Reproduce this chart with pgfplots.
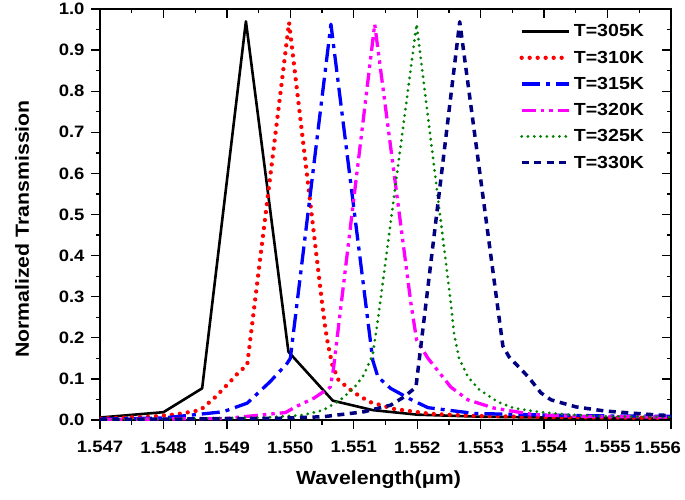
\documentclass[border=0pt]{standalone}
\usepackage{fontspec}
\setmainfont{Liberation Sans}[FakeStretch=1.12]
\usepackage{pgfplots}
\pgfplotsset{compat=1.18}

\definecolor{cred}{RGB}{255,0,0}
\definecolor{cblue}{RGB}{0,0,255}
\definecolor{cmag}{RGB}{255,0,255}
\definecolor{cgreen}{RGB}{0,128,0}
\definecolor{cnavy}{RGB}{0,0,128}

\begin{document}
\begin{tikzpicture}[font=\bfseries]
\useasboundingbox (-100pt,-79pt) rectangle (585pt,420pt);
\pgfplotsset{
  frame/.style={
    at={(0,0)}, anchor=south west,
    scale only axis, width=571pt, height=411pt,
    xmin=1.547, xmax=1.556, ymin=0, ymax=1,
    xtick={1.547,1.548,1.549,1.550,1.551,1.552,1.553,1.554,1.555,1.556},
    ytick={0,0.1,0.2,0.3,0.4,0.5,0.6,0.7,0.8,0.9,1.0},
    minor x tick num=1, minor y tick num=1,
    axis line style={line width=1.8pt},
    major tick style={line width=1.3pt, black},
    minor tick style={line width=1.3pt, black},
    major tick length=9pt, minor tick length=4.5pt,
  }
}
\begin{axis}[frame,
    xtick pos=bottom, ytick pos=left, tick align=outside,
    xticklabels={1.547,1.548,1.549,1.550,1.551,1.552,1.553,1.554,1.555,\makebox[20pt][r]{1.556}},
    yticklabels={0.0,0.1,0.2,0.3,0.4,0.5,0.6,0.7,0.8,0.9,1.0},
    tick label style={font=\fontsize{16.5}{18}\selectfont\bfseries},
    xticklabel style={yshift=-9pt},
    yticklabel style={xshift=-3pt},
    xlabel={Wavelength(μm)}, ylabel={Normalized Transmission},
    label style={font=\fontsize{19}{21}\selectfont\bfseries},
    xlabel style={at={(axis description cs:0.4877,-0.1460)}, anchor=center},
    ylabel style={at={(axis description cs:-0.1366,0.4647)}, anchor=center},
    legend style={draw=none, fill=none, at={(axis description cs:0.962,0.972)},
      anchor=north east, font=\fontsize{17.5}{19}\selectfont\bfseries,
      row sep=8.5pt, /tikz/every odd column/.append style={column sep=1pt}},
    legend cell align=left,
    legend image code/.code={\draw[#1] (0pt,0pt) -- (47pt,0pt);},
    every axis plot/.append style={line join=round},
]
\addplot[black, line width=2.6pt] coordinates {
(1.5470,0.006)(1.5480,0.019)(1.54861,0.077)(1.5493,0.970)(1.54997,0.166)
(1.55067,0.047)(1.5513,0.024)(1.5520,0.013)(1.5530,0.008)(1.5540,0.006)
(1.5550,0.005)(1.5560,0.004)
};
\addlegendentry{T=305K}
\addplot[cred, line width=4.3pt, line cap=round, dash pattern=on 0pt off 8pt] coordinates {
(1.5470,0.004)(1.5478,0.008)(1.54822,0.014)(1.54858,0.024)(1.54882,0.056)
(1.54905,0.093)(1.54918,0.115)(1.54932,0.134)(1.54998,0.967)(1.5505,0.285)
(1.55055,0.225)(1.55059,0.187)(1.55066,0.135)(1.55076,0.097)(1.5510,0.067)
(1.55125,0.044)(1.55163,0.027)(1.5522,0.015)(1.5529,0.010)(1.5540,0.007)
(1.5550,0.006)(1.5560,0.005)
};
\addlegendentry{T=310K}
\addplot[cblue, line width=3.3pt, dash pattern=on 18pt off 6pt on 4pt off 6pt] coordinates {
(1.5470,0.002)(1.5480,0.005)(1.54894,0.020)(1.54932,0.041)(1.54968,0.093)
(1.54995,0.138)(1.5500,0.150)(1.55064,0.963)(1.5513,0.145)(1.55138,0.105)
(1.55158,0.077)(1.5519,0.050)(1.55217,0.030)(1.5529,0.016)(1.5540,0.012)
(1.5550,0.010)(1.5560,0.009)
};
\addlegendentry{T=315K}
\addplot[cmag, line width=3.3pt, dash pattern=on 14pt off 5pt on 3.5pt off 5pt on 3.5pt off 5pt] coordinates {
(1.5470,0.001)(1.5490,0.004)(1.54992,0.018)(1.55011,0.034)(1.55037,0.053)
(1.55063,0.080)(1.55068,0.125)(1.55133,0.963)(1.5519,0.285)(1.55199,0.195)
(1.55217,0.150)(1.55253,0.080)(1.5528,0.049)(1.55321,0.029)(1.55384,0.013)
(1.5545,0.009)(1.5560,0.007)
};
\addlegendentry{T=320K}
\addplot[cgreen, line width=3.1pt, line cap=round, dash pattern=on 0pt off 6.3pt] coordinates {
(1.5470,0.001)(1.5496,0.006)(1.5502,0.012)(1.55052,0.024)(1.55079,0.049)
(1.5510,0.077)(1.55116,0.110)(1.5513,0.160)(1.55138,0.243)(1.55199,0.963)
(1.55253,0.285)(1.55258,0.210)(1.55266,0.150)(1.5528,0.105)(1.55297,0.075)
(1.55327,0.044)(1.55352,0.029)(1.5539,0.020)(1.55437,0.013)(1.5550,0.009)
(1.5560,0.007)
};
\addlegendentry{T=325K}
\addplot[cnavy, line width=3.5pt, dash pattern=on 7pt off 5.5pt] coordinates {
(1.5470,0.001)(1.5498,0.004)(1.55052,0.008)(1.55116,0.020)(1.55158,0.036)
(1.55179,0.056)(1.55198,0.080)(1.55267,0.969)(1.55335,0.180)(1.55345,0.153)
(1.55375,0.105)(1.55395,0.066)(1.55411,0.049)(1.5545,0.032)(1.55495,0.022)
(1.55537,0.017)(1.5558,0.012)(1.5560,0.011)
};
\addlegendentry{T=330K}
\end{axis}
\begin{axis}[frame,
    xtick pos=top, ytick pos=right, tick align=inside,
    xticklabels={}, yticklabels={}, axis line style={draw=none},
]
\end{axis}
\end{tikzpicture}
\end{document}
